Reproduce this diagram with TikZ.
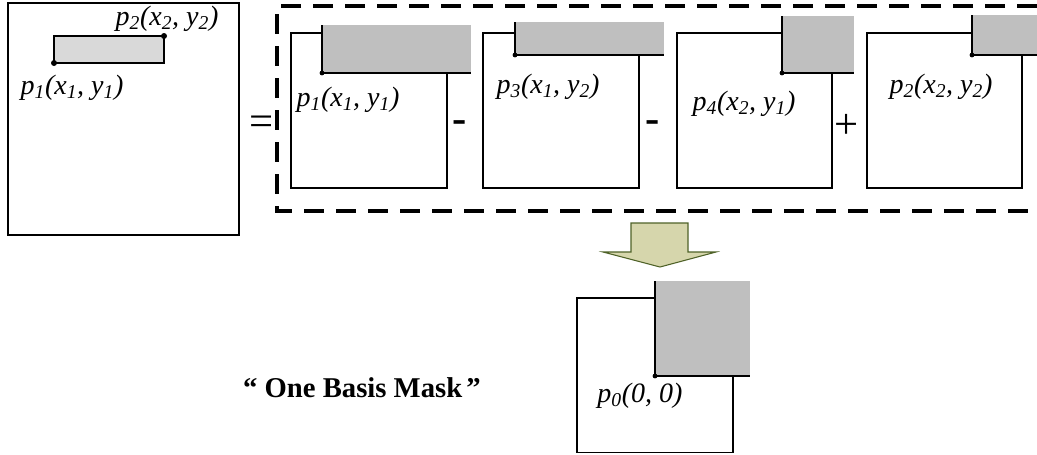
\documentclass[tikz,border=0pt]{standalone}
\usepackage{fontspec}
\setmainfont{Liberation Serif}
\usetikzlibrary{positioning}
\definecolor{maskgray}{RGB}{191,191,191}
\definecolor{rectgray}{RGB}{217,217,217}
\definecolor{arrowfill}{RGB}{214,214,172}
\definecolor{arrowline}{RGB}{79,98,40}
\tikzset{box/.style={draw,line width=1.1pt},
	pt/.style={circle,fill,inner sep=0pt,minimum size=3.6pt},
	lbl/.style={font=\fontsize{21}{24}\selectfont\itshape,inner sep=0pt},
	op/.style={font=\fontsize{32}{36}\selectfont,inner sep=0pt}}

\begin{document}
\begin{tikzpicture}[x=0.75pt,y=-0.75pt,line width=1.1pt]
	\useasboundingbox (0,0) rectangle (1037,454);

	% the region
	\draw[line width=1.4pt] (8,3) rectangle (239,235);
	\draw[fill=rectgray] (54,36) rectangle (164,63);
	\node[pt,minimum size=4.5pt] (r1) at (54,63) {};
	\node[pt,minimum size=4.5pt] (r2) at (164,36) {};
	\node[lbl] (lr2) at (167,19) {p\textsubscript{2}(x\textsubscript{2}, y\textsubscript{2})};
	\node[lbl] (lr1) at (72,88) {p\textsubscript{1}(x\textsubscript{1}, y\textsubscript{1})};

	\node[op] (eq) at (262,126) {=};
	\draw[line width=2.3pt,dash pattern=on 15pt off 9pt] (1037,6) -- (277,6) -- (277,211) -- (1037,211);

	% four masks
	\draw[box] (291,33) rectangle (447,188);
	\fill[maskgray] (322,25) rectangle (471,73);
	\draw (322,25) |- (471,73);
	\node[pt] (a1) at (322,73) {};
	\node[lbl] (la1) at (348,100) {p\textsubscript{1}(x\textsubscript{1}, y\textsubscript{1})};
	\node[op,font=\fontsize{32}{36}\selectfont\bfseries] (m1) at (460,127) {-};

	\draw[box] (483,33) rectangle (639,188);
	\fill[maskgray] (515,22) rectangle (664,55);
	\draw (515,22) |- (664,55);
	\node[pt] (a3) at (515,55) {};
	\node[lbl] (la3) at (548,87) {p\textsubscript{3}(x\textsubscript{1}, y\textsubscript{2})};
	\node[op,font=\fontsize{32}{36}\selectfont\bfseries] (m2) at (653,127) {-};

	\draw[box] (677,33) rectangle (832,188);
	\fill[maskgray] (782,16) rectangle (854,73);
	\draw (782,16) |- (854,73);
	\node[pt] (a4) at (782,73) {};
	\node[lbl] (la4) at (744,104) {p\textsubscript{4}(x\textsubscript{2}, y\textsubscript{1})};
	\node[op] (pl) at (847,126) {+};

	\draw[box] (867,33) rectangle (1022,188);
	\fill[maskgray] (972,15) rectangle (1037,55);
	\draw (972,15) |- (1037,55);
	\node[pt] (a2) at (972,55) {};
	\node[lbl] (la2) at (941,87) {p\textsubscript{2}(x\textsubscript{2}, y\textsubscript{2})};

	% arrow down
	\draw[fill=arrowfill,draw=arrowline,line width=0.8pt] (631,223) -- (688,223) -- (688,252) -- (716,252)
		-- (660,267) -- (603,252) -- (631,252) -- cycle;

	% the basis mask
	\draw[box] (577,298) rectangle (733,452.5);
	\fill[maskgray] (655,281) rectangle (750,376);
	\draw (655,281) |- (750,376);
	\node[pt] (a0) at (655,376) {};
	\node[lbl] (la0) at (640,396) {p\textsubscript{0}(0, 0)};

	\node[font=\fontsize{21.5}{24}\selectfont\bfseries] (cap) at (362,388) {“\hspace{0.25em}One Basis Mask\hspace{0.15em}”};
\end{tikzpicture}
\end{document}
